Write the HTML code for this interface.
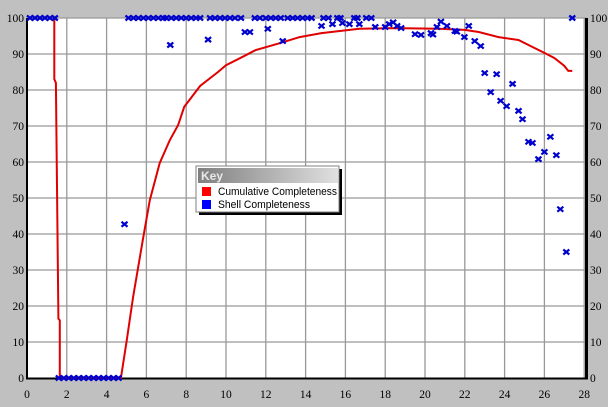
<!DOCTYPE html>
<html><head><meta charset="utf-8"><style>
html,body{margin:0;padding:0;background:#c0c0c0;}
svg{display:block;}
</style></head><body>
<svg id="chart" width="608" height="407" viewBox="0 0 608 407" xmlns="http://www.w3.org/2000/svg">
<rect x="0" y="0" width="608" height="407" fill="#c0c0c0"/>
<rect x="27" y="18" width="559" height="360" fill="#fff"/>
<g id="grid"></g>
<g id="axes"></g>
<g id="series"></g>
<g>
  <rect x="199" y="169" width="143" height="46" fill="#000"/>
  <rect x="196" y="166" width="143" height="46" fill="#fff" stroke="#808080"/>
  <defs><linearGradient id="kg" x1="0" x2="1"><stop offset="0" stop-color="#808080"/><stop offset="1" stop-color="#e0e0e0"/></linearGradient></defs>
  <rect x="198" y="168" width="140" height="15" fill="url(#kg)"/>
  <text x="201" y="180" font-family="Liberation Sans,sans-serif" font-weight="bold" font-size="12" fill="#e8e8e8">Key</text>
  <rect x="202" y="187" width="9" height="9" fill="#ff0000"/>
  <text x="218" y="195" font-family="Liberation Sans,sans-serif" font-size="11" textLength="119" lengthAdjust="spacingAndGlyphs" fill="#000">Cumulative Completeness</text>
  <rect x="202" y="200" width="9" height="9" fill="#0000ff"/>
  <text x="218" y="208" font-family="Liberation Sans,sans-serif" font-size="11" textLength="92" lengthAdjust="spacingAndGlyphs" fill="#000">Shell Completeness</text>
</g>
</svg>
<script>
const xTicks=[0,2,4,6,8,10,12,14,16,18,20,22,24,26,28];
const yTicks=[0,10,20,30,40,50,60,70,80,90,100];
const cumX=[1.37,1.37,1.45,1.58,1.65,1.65,4.72,5.0,5.33,5.82,6.17,6.67,7.17,7.6,7.9,8.7,9.6,10.0,10.9,11.5,12.7,13.7,14.8,16.7,18.5,20.7,22.0,22.7,23.7,24.7,25.2,26.0,26.5,27.0,27.2,27.4];
const cumY=[100,83,82,16.5,16,0,0,10,22.5,38.3,49.4,59.7,66,70.3,75.3,81.1,85,86.9,89.4,91.1,93,94.7,95.8,97,97.2,97,96.7,96.1,94.7,93.9,92.5,90.3,88.9,86.7,85.3,85.3];
const shellX=[0.15,0.4,0.65,0.9,1.15,1.4,1.6,1.85,2.1,2.35,2.6,2.85,3.1,3.35,3.6,3.85,4.1,4.35,4.6,4.9,
5.1,5.35,5.6,5.85,6.1,6.35,6.6,6.85,7.0,7.2,7.25,7.5,7.75,8.0,8.25,8.5,8.7,9.1,9.2,9.45,9.7,9.95,10.2,10.45,10.75,
10.95,11.2,11.45,11.7,12.0,12.1,12.25,12.5,12.75,12.85,13.1,13.35,13.6,13.85,14.1,14.3,14.8,14.9,15.15,15.35,15.6,15.75,15.85,16.2,16.45,16.6,16.7,17.05,17.3,17.5,18.0,18.2,18.4,18.6,18.8,
19.5,19.8,20.3,20.4,20.6,20.8,21.1,21.5,21.6,21.98,22.2,22.5,22.8,23.0,23.3,23.6,23.8,24.1,24.4,24.7,24.9,25.2,25.4,25.7,26.0,26.3,26.6,26.8,27.1,27.4];
const shellY=[100,100,100,100,100,100,0,0,0,0,0,0,0,0,0,0,0,0,0,42.7,
100,100,100,100,100,100,100,100,100,92.5,100,100,100,100,100,100,100,94,100,100,100,100,100,100,100,
96.1,96.1,100,100,100,97,100,100,100,93.6,100,100,100,100,100,100,97.8,100,100,98.3,100,100,98.6,98.3,100,100,98.3,100,100,97.5,97.5,98.3,98.8,97.8,97.2,
95.5,95.3,95.8,95.4,97.5,99,97.8,96.4,96.2,94.7,97.8,93.6,92.2,84.7,79.4,84.4,77,75.5,81.7,74.2,71.9,65.6,65.3,60.8,62.8,67,61.9,46.9,35,100];
const NS="http://www.w3.org/2000/svg";
const X0=27,XS=19.9,Y0=378,YS=3.6;
const sx=v=>X0+v*XS, sy=v=>Y0-v*YS;
function mk(tag,attrs,parent){const e=document.createElementNS(NS,tag);for(const k in attrs)e.setAttribute(k,attrs[k]);parent.appendChild(e);return e;}
const grid=document.getElementById('grid'),axes=document.getElementById('axes'),series=document.getElementById('series');
const TF={'font-family':'Liberation Serif, serif','font-size':11.5,fill:'#000'};
xTicks.forEach(v=>{
  if(v>0){const l=mk('line',{x1:sx(v),x2:sx(v),y1:18,y2:378,stroke:'#999','stroke-width':1.3},grid);
  
  }
  const t=mk('text',Object.assign({x:sx(v),y:398,'text-anchor':'middle'},TF),axes);t.textContent=v;
  
  
});
yTicks.forEach(v=>{
  if(v>0){const l=mk('line',{x1:27,x2:586,y1:sy(v),y2:sy(v),stroke:'#999','stroke-width':1.3},grid);
  
  }
  const t=mk('text',Object.assign({x:24,y:sy(v)+4,'text-anchor':'end'},TF),axes);t.textContent=v;
  
  
  const t2=mk('text',Object.assign({x:590,y:sy(v)+4,'text-anchor':'start'},TF),axes);t2.textContent=v;
  
  
});
const la=mk('line',{x1:27,x2:27,y1:18,y2:379,stroke:'#000','stroke-width':2},axes);


const ba=mk('line',{x1:26,x2:588,y1:378.5,y2:378.5,stroke:'#000','stroke-width':2},axes);


const ra=mk('line',{x1:586.5,x2:586.5,y1:18,y2:379,stroke:'#000','stroke-width':3},axes);


const pts=cumX.map((x,i)=>sx(x).toFixed(1)+','+sy(cumY[i]).toFixed(1)).join(' ');
const pl=mk('polyline',{points:pts,fill:'none',stroke:'#e00000','stroke-width':2},series);


shellX.forEach((x,i)=>{
  const cx=sx(x),cy=sy(shellY[i]);
  const p=mk('path',{d:`M${cx-3} ${cy-2.5}L${cx+3} ${cy+2.5}M${cx+3} ${cy-2.5}L${cx-3} ${cy+2.5}`,stroke:'#0000cc','stroke-width':2.2},series);
  
  
});
</script>
</body></html>
